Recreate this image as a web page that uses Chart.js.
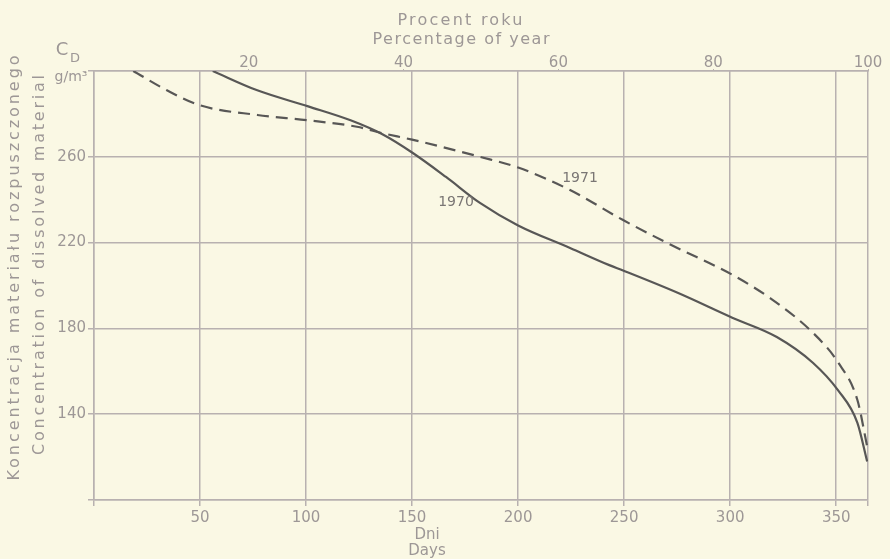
<!DOCTYPE html>
<html>
<head>
<meta charset="utf-8">
<script src="https://cdn.jsdelivr.net/npm/chart.js@4"></script>
<style>
  html, body { margin: 0; padding: 0; background: #faf8e4; }
  canvas { display: block; }
</style>
</head>
<body>
<canvas id="chart" width="890" height="559"></canvas>
<script>
// values (day of year -> g/m3)
const days1970 = [56, 77, 101, 121, 136, 150, 166, 182, 200, 224.5, 243, 249.5, 275.5, 301, 322, 339, 351, 360, 364.6];
const conc1970 = [300, 291, 283.5, 277, 270.5, 262, 250.6, 238.5, 228, 217.5, 209.5, 207, 196.5, 185, 176, 164, 151, 136, 118];

const days1971 = [18.5, 34.4, 50, 77, 101, 124, 136, 150, 182, 200, 224.5, 249.5, 272, 301, 319, 339, 351, 360, 364.6];
const conc1971 = [300, 291, 284, 279.5, 277, 274, 271, 268, 260, 255, 244.5, 230.5, 219, 205, 194, 178, 164, 146.6, 125];

const dayTicks = [50, 100, 150, 200, 250, 300, 350];
const percentTicks = [20, 40, 60, 80, 100];
const concTicks = [140, 180, 220, 260];

const textGrey = '#9d9796';
const gridGrey = '#b8b1b0';
const lineGrey = '#585756';

function toPoints(xs, ys) {
  return xs.map((x, i) => ({ x: x, y: ys[i] }));
}

function fitText(ctx, text, x, y, width) {
  ctx.letterSpacing = '0px';
  const w = ctx.measureText(text).width;
  const sp = (width - w) / (text.length - 1);
  ctx.letterSpacing = sp + 'px';
  ctx.fillText(text, x + sp / 2, y);
  ctx.letterSpacing = '0px';
}

const paper = {
  id: 'paper',
  beforeDraw(chart) {
    const c = chart.ctx;
    c.save();
    c.fillStyle = '#faf8e4';
    c.fillRect(0, 0, chart.width, chart.height);
    c.restore();
  },
  afterDraw(chart) {
    const c = chart.ctx;
    c.save();
    c.fillStyle = textGrey;
    c.textAlign = 'center';
    c.textBaseline = 'middle';
    c.font = '16px "DejaVu Sans"';
    fitText(c, 'Procent roku', 460, 21, 125);
    fitText(c, 'Percentage of year', 461, 40, 177);
    c.font = '15px "DejaVu Sans"';
    c.fillText('Dni', 427, 535);
    c.fillText('Days', 427, 551);

    c.font = '18px "DejaVu Sans"';
    c.fillText('C', 62, 50);
    c.font = '13px "DejaVu Sans"';
    c.fillText('D', 75, 59);
    c.font = '14px "DejaVu Sans"';
    c.fillText('g/m³', 71, 77);

    c.font = '16px "DejaVu Sans"';
    c.save();
    c.translate(15, 268);
    c.rotate(-Math.PI / 2);
    fitText(c, 'Koncentracja materiału rozpuszczonego', 0, 0, 425);
    c.restore();
    c.save();
    c.translate(40, 265);
    c.rotate(-Math.PI / 2);
    fitText(c, 'Concentration of dissolved material', 0, 0, 380);
    c.restore();

    c.fillStyle = '#7a7674';
    c.font = '14px "DejaVu Sans"';
    c.fillText('1971', 580, 178);
    c.fillText('1970', 456, 202);
    c.restore();
  }
};

new Chart(document.getElementById('chart'), {
  type: 'scatter',
  data: {
    datasets: [
      {
        label: '1970',
        data: toPoints(days1970, conc1970),
        showLine: true,
        borderColor: lineGrey,
        borderWidth: 2.2,
        pointRadius: 0,
        cubicInterpolationMode: 'monotone',
        xAxisID: 'x'
      },
      {
        label: '1971',
        data: toPoints(days1971, conc1971),
        showLine: true,
        borderColor: lineGrey,
        borderWidth: 2.2,
        borderDash: [12, 7],
        pointRadius: 0,
        cubicInterpolationMode: 'monotone',
        xAxisID: 'x'
      }
    ]
  },
  options: {
    responsive: false,
    animation: false,
    layout: { padding: { left: 0, right: 22, top: 0, bottom: 0 } },
    plugins: {
      legend: { display: false },
      tooltip: { enabled: false }
    },
    scales: {
      x: {
        type: 'linear',
        position: 'bottom',
        min: 0,
        max: 365,
        afterFit(s) { s.height = 59; },
        afterBuildTicks(s) { s.ticks = [0].concat(dayTicks, [365]).map(v => ({ value: v })); },
        grid: { color: gridGrey, lineWidth: 1.5, tickLength: 6 },
        border: { color: gridGrey, width: 1.5 },
        ticks: {
          color: textGrey,
          font: { family: 'DejaVu Sans', size: 15 },
          padding: 3,
          maxRotation: 0,
          autoSkip: false,
          callback: v => dayTicks.includes(v) ? v : ''
        }
      },
      top: {
        type: 'linear',
        position: 'top',
        min: 0,
        max: 100,
        afterFit(s) { s.height = 71; },
        afterBuildTicks(s) { s.ticks = percentTicks.map(v => ({ value: v })); },
        grid: { drawOnChartArea: false, color: gridGrey, tickLength: 2 },
        border: { color: gridGrey, width: 1.5 },
        ticks: {
          color: textGrey,
          font: { family: 'DejaVu Sans', size: 15 },
          padding: -3,
          maxRotation: 0,
          autoSkip: false
        }
      },
      y: {
        min: 100,
        max: 300,
        afterFit(s) { s.width = 94; },
        afterBuildTicks(s) { s.ticks = [100].concat(concTicks, [300]).map(v => ({ value: v })); },
        grid: { color: gridGrey, lineWidth: 1.5, tickLength: 6 },
        border: { color: gridGrey, width: 1.5 },
        ticks: {
          color: textGrey,
          font: { family: 'DejaVu Sans', size: 15 },
          padding: 2,
          autoSkip: false,
          callback: v => concTicks.includes(v) ? v : ''
        }
      }
    }
  },
  plugins: [paper]
});
</script>
</body>
</html>
